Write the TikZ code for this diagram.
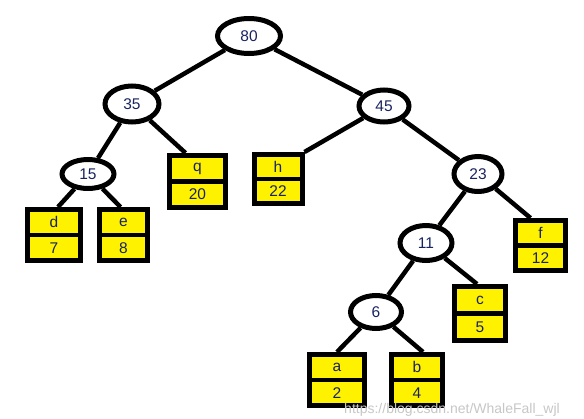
\documentclass[tikz,border=0pt]{standalone}
\usepackage{fontspec}
\setmainfont{Liberation Sans}
\usetikzlibrary{shapes.geometric}
\definecolor{txt}{RGB}{25,35,95}
\definecolor{yel}{RGB}{255,242,0}
\tikzset{
  ell/.style={ellipse,draw,line width=5pt,fill=white,inner sep=0pt,
    font=\fontsize{15.5}{15.5}\selectfont,text=txt},
  edge/.style={line width=4.5pt},
  leaf/.style={rectangle,draw,line width=5pt,fill=yel,inner sep=0pt},
  lab/.style={font=\fontsize{15.5}{15.5}\selectfont,text=txt,inner sep=0pt},
  divider/.style={line width=4.5pt},
  wmark/.style={font=\fontsize{14}{14}\selectfont,text=black!22,inner sep=0pt},
}
\newcommand{\leafnode}[7]{%
  \node[leaf,minimum width=#4pt,minimum height=#5pt] (#1) at (#2,#3) {};
  \draw[divider] (#1.west) -- (#1.east);
  \node[lab] (#1t) at ([yshift=#5/4*1pt]#1.center) {#6};
  \node[lab] (#1b) at ([yshift=-#5/4*1pt]#1.center) {#7};
}
\begin{document}
\begin{tikzpicture}[x=1pt,y=-1pt]
\useasboundingbox[fill=white] (0,0) rectangle (584,418);
% internal nodes
\node[ell,minimum width=63pt,minimum height=35pt] (n80) at (249,36) {80};
\node[ell,minimum width=54pt,minimum height=36pt] (n35) at (132,104) {35};
\node[ell,minimum width=50pt,minimum height=32pt] (n45) at (384,106) {45};
\node[ell,minimum width=52pt,minimum height=29pt] (n15) at (88,174) {15};
\node[ell,minimum width=48pt,minimum height=35pt] (n23) at (478,174) {23};
\node[ell,minimum width=52pt,minimum height=35pt] (n11) at (426,243) {11};
\node[ell,minimum width=51pt,minimum height=33pt] (n6) at (376,312) {6};
% leaves
\leafnode{d}{54}{235}{53}{51}{d}{7}
\leafnode{e}{123.5}{235}{48}{51}{e}{8}
\leafnode{q}{197.5}{181.5}{56}{52}{q}{20}
\leafnode{h}{278}{179}{48}{49}{h}{22}
\leafnode{f}{540.5}{245.5}{50}{50}{f}{12}
\leafnode{c}{480}{313.5}{51}{54}{c}{5}
\leafnode{a}{337}{380}{55}{51}{a}{2}
\leafnode{b}{417}{380}{51}{51}{b}{4}
% edges
\draw[edge] (n80) -- (n35);
\draw[edge] (n80) -- (n45);
\draw[edge] (n35) -- (n15);
\draw[edge] (n35) -- ([xshift=-12pt]q.north);
\draw[edge] (n45) -- (h.north east);
\draw[edge] (n45) -- (n23);
\draw[edge] (n15) -- ([xshift=4pt]d.north);
\draw[edge] (n15) -- ([xshift=-3pt]e.north);
\draw[edge] (n23) -- (n11);
\draw[edge] (n23) -- ([xshift=-10pt]f.north);
\draw[edge] (n11) -- (n6);
\draw[edge] (n11) -- ([xshift=-3pt]c.north);
\draw[edge] (n6) -- (a.north);
\draw[edge] (n6) -- ([xshift=6pt]b.north);
% watermark
\node[wmark] (wm) at (452,409.5) {https://blog.csdn.net/WhaleFall\_wjl};
\end{tikzpicture}
\end{document}
